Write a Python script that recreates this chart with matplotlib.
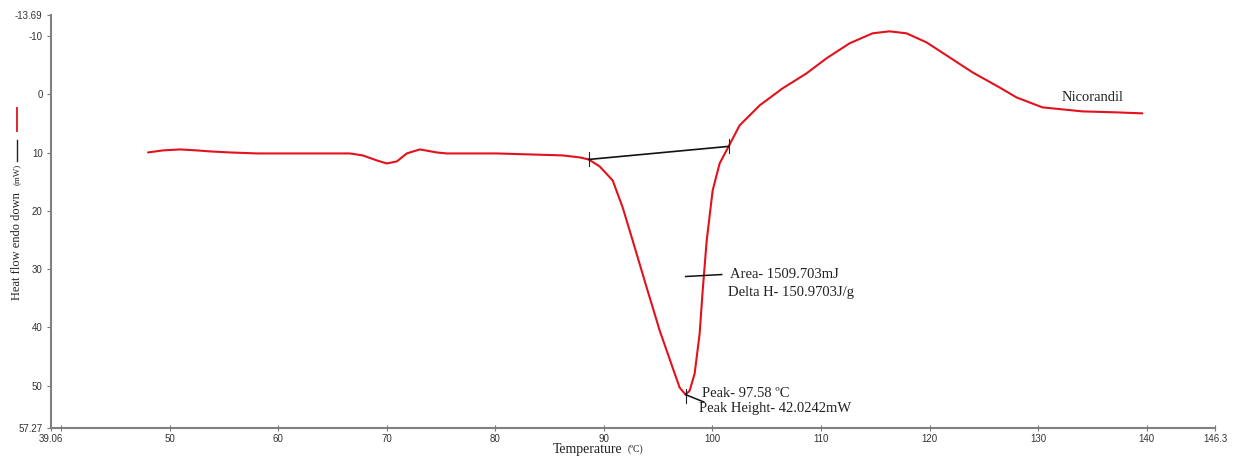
import matplotlib
matplotlib.use('Agg')
import numpy as np
import matplotlib.pyplot as plt
from matplotlib.lines import Line2D

# ─── data ─────────────────────────────────────────────────────────────────────

temp = [48.0, 49.37, 50.94, 52.50, 53.70, 55.54, 58.03, 63.19, 66.59, 67.79,
        69.08, 70.00, 70.92, 71.84, 73.04, 74.60, 75.52, 80.13, 86.20, 87.77,
        88.60, 89.61, 90.81, 91.73, 92.65, 93.94, 95.14, 96.33, 96.98, 97.53,
        97.90, 98.36, 98.82, 99.10, 99.47, 100.02, 100.66, 101.49, 102.50, 104.35,
        106.46, 108.67, 110.51, 112.63, 114.75, 116.31, 117.88, 119.72, 121.84, 123.96,
        126.44, 128.01, 130.40, 134.09, 137.22, 139.61]
heat_flow = [9.97, 9.62, 9.45, 9.62, 9.79, 9.97, 10.14, 10.14, 10.14, 10.48,
             11.34, 11.86, 11.51, 10.14, 9.45, 9.97, 10.14, 10.14, 10.48, 10.82,
             11.17, 12.37, 14.78, 19.42, 25.09, 33.16, 40.55, 46.91, 50.34, 51.55,
             50.86, 47.94, 41.07, 33.68, 25.09, 16.49, 11.86, 8.93, 5.33, 1.89,
             -1.03, -3.61, -6.19, -8.76, -10.48, -10.82, -10.48, -8.93, -6.36, -3.78,
             -1.20, 0.52, 2.23, 2.92, 3.09, 3.26]

baseline_t = [88.60, 101.49]
baseline_h = [11.17, 8.93]

x_ticks = [39.06, 40, 50, 60, 70, 80, 90, 100, 110, 120, 130, 140, 146.3]
x_labels = ['39.06', '', '50', '60', '70', '80', '90', '100', '110', '120',
            '130', '140', '146.3']
y_ticks = [-13.69, -10, 0, 10, 20, 30, 40, 50, 57.27]
y_labels = ['-13.69', '-10', '0', '10', '20', '30', '40', '50', '57.27']

RED = '#e3111b'
SERIF = 'Liberation Serif'
SANS = 'Liberation Sans'

# ─── plot ─────────────────────────────────────────────────────────────────────

fig = plt.figure(figsize=(12.35, 4.57), dpi=100)
ax = fig.add_axes([0.0413, 0.0635, 0.9425, 0.9045])

ax.plot(temp, heat_flow, color=RED, linewidth=1.5, zorder=3,
        solid_joinstyle='round', solid_capstyle='round')
ax.plot(baseline_t, baseline_h, color='#111111', linewidth=1.2, zorder=4)
# small vertical markers at the integration limits
for t, h in zip(baseline_t, baseline_h):
    ax.plot([t, t], [h - 1.2, h + 1.2], color='#222222', linewidth=0.8, zorder=4)

# area marker and peak marker
ax.plot([97.53, 100.85], [31.27, 30.93], color='#111111', linewidth=1.1, zorder=4)
ax.plot([97.53, 97.53], [50.5, 53.0], color='#222222', linewidth=0.8, zorder=4)
ax.plot([97.53, 99.2], [51.55, 52.8], color='#111111', linewidth=1.1, zorder=4)

txt = dict(family=SERIF, fontsize=10.5, color='#222222', va='center', ha='left')
ax.text(101.6, 31.0, 'Area- 1509.703mJ', **txt)
ax.text(101.4, 34.0, 'Delta H- 150.9703J/g', **txt)
ax.text(99.0, 51.4, 'Peak- 97.58 ºC', **txt)
ax.text(98.8, 54.0, 'Peak Height- 42.0242mW', **txt)
ax.text(132.2, 0.6, 'Nicorandil', **txt)

ax.set_xlim(39.06, 146.3)
ax.set_ylim(57.27, -13.69)
ax.set_xticks(x_ticks)
ax.set_xticklabels(x_labels)
ax.set_yticks(y_ticks)
ax.set_yticklabels(y_labels)

for lab in ax.get_xticklabels() + ax.get_yticklabels():
    lab.set_family(SANS)
    lab.set_fontsize(7)
    lab.set_color('#333333')

ax.tick_params(axis='x', direction='inout', length=4, width=0.8,
               color='#777777', pad=2)
ax.tick_params(axis='y', direction='out', length=3, width=0.8,
               color='#777777', pad=3)

for s in ('top', 'right'):
    ax.spines[s].set_visible(False)
for s in ('left', 'bottom'):
    ax.spines[s].set_color('#808080')
    ax.spines[s].set_linewidth(1.5)

# ── axis labels (drawn at figure level, like the instrument export) ──────────
W, H = 1235.0, 457.0
fig.add_artist(Line2D([17 / W, 17 / W], [1 - 108 / H, 1 - 131 / H],
                      color=RED, linewidth=1.3))
fig.add_artist(Line2D([17 / W, 17 / W], [1 - 140 / H, 1 - 161 / H],
                      color='#222222', linewidth=1.0))
fig.text(17 / W, 1 - 164 / H, '(mW)', family=SERIF, fontsize=6.5,
         rotation=90, ha='center', va='top', color='#222222')
fig.text(17 / W, 1 - 300 / H, 'Heat flow endo down', family=SERIF,
         fontsize=9, rotation=90, ha='center', va='bottom', color='#222222')

fig.text(622 / W, 1 - 449 / H, 'Temperature', family=SERIF, fontsize=10,
         ha='right', va='center', color='#222222')
fig.text(628 / W, 1 - 449 / H, '(ºC)', family=SERIF, fontsize=7,
         ha='left', va='center', color='#222222')

fig.savefig('out.png', dpi=100, facecolor='white')
